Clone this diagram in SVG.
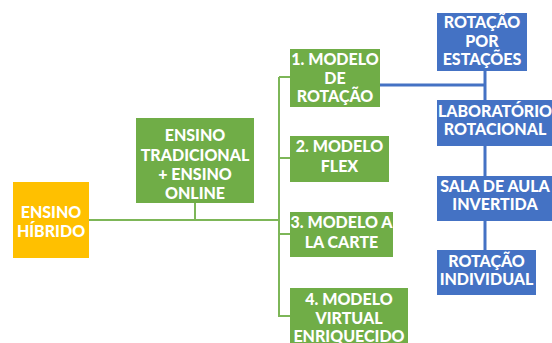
<svg xmlns="http://www.w3.org/2000/svg" width="552" height="343" viewBox="0 0 552 343">
<style>
.g{fill:#70AD47}
.b{fill:#4472C4}
.y{fill:#FFC000}
text{font-family:Lato,"Open Sans","Liberation Sans",sans-serif;font-weight:900;font-size:16px;fill:#fff;text-anchor:middle}
.gl{stroke:#7DB658;stroke-width:2;fill:none}
.bl{stroke:#4472C4;stroke-width:3;fill:none}
</style>
<rect width="552" height="343" fill="#fff"/>
<g id="connectors">
<path class="gl" d="M89 220H279M195 203V220M279 77V317M279 77H290M279 158H290M279 234H290M279 316H290"/>
<path class="bl" d="M380 85H485M485 71V250"/>
</g>
<g id="hibrido"><rect class="y" x="13" y="182" width="76" height="76"/><text x="51" y="218">ENSINO</text><text x="51" y="237">HÍBRIDO</text></g>
<g id="tradicional"><rect class="g" x="136" y="118" width="118" height="85"/><text x="195" y="141">ENSINO</text><text x="195" y="161">TRADICIONAL</text><text x="195" y="180">+ ENSINO</text><text x="195" y="199">ONLINE</text></g>
<g id="m1"><rect class="g" x="290" y="49" width="90" height="58"/><text x="335" y="65">1. MODELO</text><text x="335" y="84">DE</text><text x="335" y="102">ROTAÇÃO</text></g>
<g id="m2"><rect class="g" x="290" y="136" width="99" height="46"/><text x="339.5" y="152">2. MODELO</text><text x="339.5" y="172">FLEX</text></g>
<g id="m3"><rect class="g" x="290" y="212" width="103" height="45"/><text x="341.5" y="228">3. MODELO A</text><text x="341.5" y="248">LA CARTE</text></g>
<g id="m4"><rect class="g" x="290" y="288" width="118" height="60"/><text x="349" y="305">4. MODELO</text><text x="349" y="324">VIRTUAL</text><text x="349" y="342">ENRIQUECIDO</text></g>
<g id="r1"><rect class="b" x="437" y="13" width="90" height="58"/><text x="482" y="28">ROTAÇÃO</text><text x="482" y="47">POR</text><text x="482" y="65">ESTAÇÕES</text></g>
<g id="r2"><rect class="b" x="437" y="100" width="115" height="46"/><text x="495" y="117">LABORATÓRIO</text><text x="495" y="135">ROTACIONAL</text></g>
<g id="r3"><rect class="b" x="437" y="176" width="115" height="45"/><text x="495" y="192">SALA DE AULA</text><text x="495" y="210">INVERTIDA</text></g>
<g id="r4"><rect class="b" x="437" y="250" width="99" height="45"/><text x="486.5" y="267">ROTAÇÃO</text><text x="486.5" y="285">INDIVIDUAL</text></g>
</svg>
